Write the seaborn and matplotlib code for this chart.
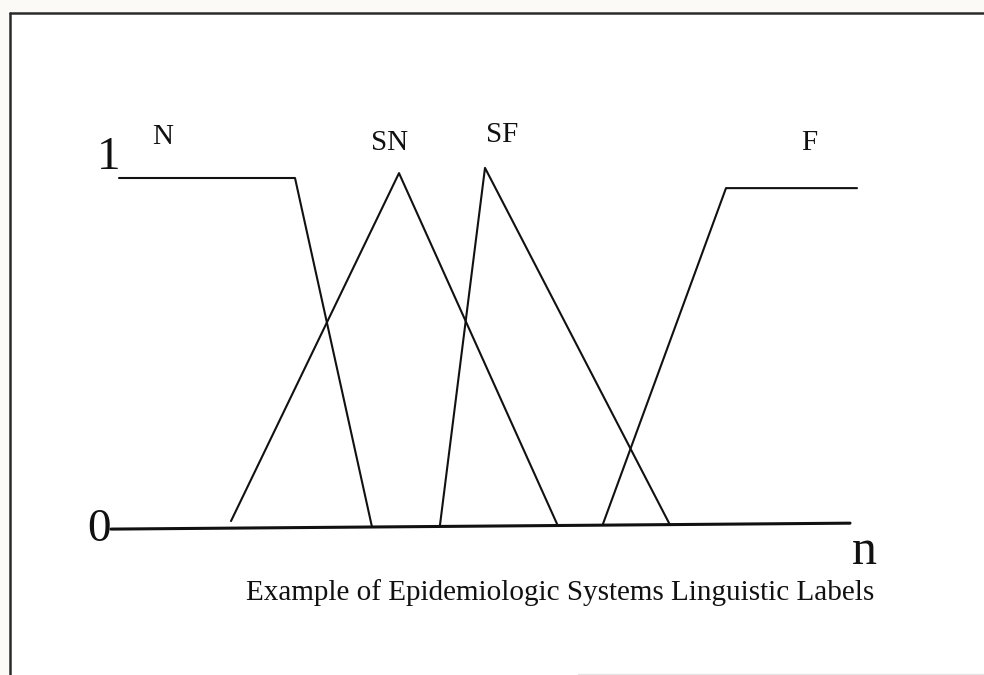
import matplotlib
matplotlib.use("Agg")
import matplotlib.pyplot as plt
import seaborn as sns
from matplotlib.lines import Line2D
from matplotlib.patches import Rectangle

# ---------------------------------------
# 데이터 (그림에서 읽은 값: x = 위치, y = 소속도)
# ---------------------------------------
labels = ["N", "SN", "SF", "F"]

n_x = [119, 295, 372]
n_y = [1.0, 1.0, 0.0]

sn_x = [231, 399, 557]
sn_y = [0.017, 1.014, 0.009]

sf_x = [440, 485, 670]
sf_y = [0.006, 1.029, 0.006]

f_x = [603, 726, 857]
f_y = [0.009, 0.971, 0.971]

base_x = [111, 850]
base_y = [-0.006, 0.011]

axis_ticks = ["1", "0"]
axis_name = "n"
caption = "Example of Epidemiologic Systems Linguistic Labels"

# ---------------------------------------
# 스타일
# ---------------------------------------
sns.set_theme(style="white")
plt.rcParams["font.family"] = ["Liberation Serif", "DejaVu Serif"]

W, H = 984, 675
Y0_PX, Y1_PX = 527, 178          # 소속도 0 / 1 의 픽셀 높이
SCALE = Y0_PX - Y1_PX


def ypix(py):
    # 픽셀 높이 -> 소속도 좌표 (텍스트 배치용)
    return (Y0_PX - py) / SCALE


fig = plt.figure(figsize=(W / 100, H / 100), dpi=100)
fig.patch.set_facecolor("#fbfaf6")

# 안쪽 흰 영역 + 위/왼쪽 테두리
bg = Rectangle((10 / W, 0), 1, 1 - 13 / H, transform=fig.transFigure,
               facecolor="white", edgecolor="none", zorder=-5)
fig.add_artist(bg)
fig.add_artist(Line2D([10 / W, 1], [1 - 13 / H, 1 - 13 / H], transform=fig.transFigure,
                      color="#2b2b2b", lw=1.8, zorder=-4))
fig.add_artist(Line2D([10 / W, 10 / W], [0, 1 - 13 / H], transform=fig.transFigure,
                      color="#2b2b2b", lw=1.8, zorder=-4))
fig.add_artist(Line2D([578 / W, 1], [1.5 / H, 1.5 / H], transform=fig.transFigure,
                      color="#e4e4e4", lw=1.0, zorder=-4))

ax = fig.add_axes([0, 0, 1, 1])
ax.set_zorder(5)
ax.patch.set_alpha(0)
ax.set_xlim(0, W)
ax.set_ylim(ypix(H), ypix(0))
ax.set_axis_off()

line_kw = dict(color="#111111", linewidth=1.5, sort=False, estimator=None, ax=ax)
for xs, ys in [(n_x, n_y), (sn_x, sn_y), (sf_x, sf_y), (f_x, f_y)]:
    sns.lineplot(x=xs, y=ys, **line_kw)
sns.lineplot(x=base_x, y=base_y, color="#111111", linewidth=2.2, sort=False,
             estimator=None, ax=ax)

# 축 표시 (1, 0, n)
ax.text(109, ypix(158), axis_ticks[0], fontsize=34, ha="center", va="center", color="#111111")
ax.text(99, ypix(530), axis_ticks[1], fontsize=34, ha="center", va="center", color="#111111")
ax.text(864, ypix(552), axis_name, fontsize=36, ha="center", va="center", color="#111111")

# 언어 라벨
label_pos = [(163, 137), (390, 143), (502, 135), (809, 143)]
for lab, (px, py) in zip(labels, label_pos):
    ax.text(px, ypix(py), lab, fontsize=21, ha="center", va="center", color="#111111")

ax.text(560, ypix(593), caption, fontsize=21, ha="center", va="center", color="#111111")

plt.savefig("out.png", dpi=100)
plt.close()
